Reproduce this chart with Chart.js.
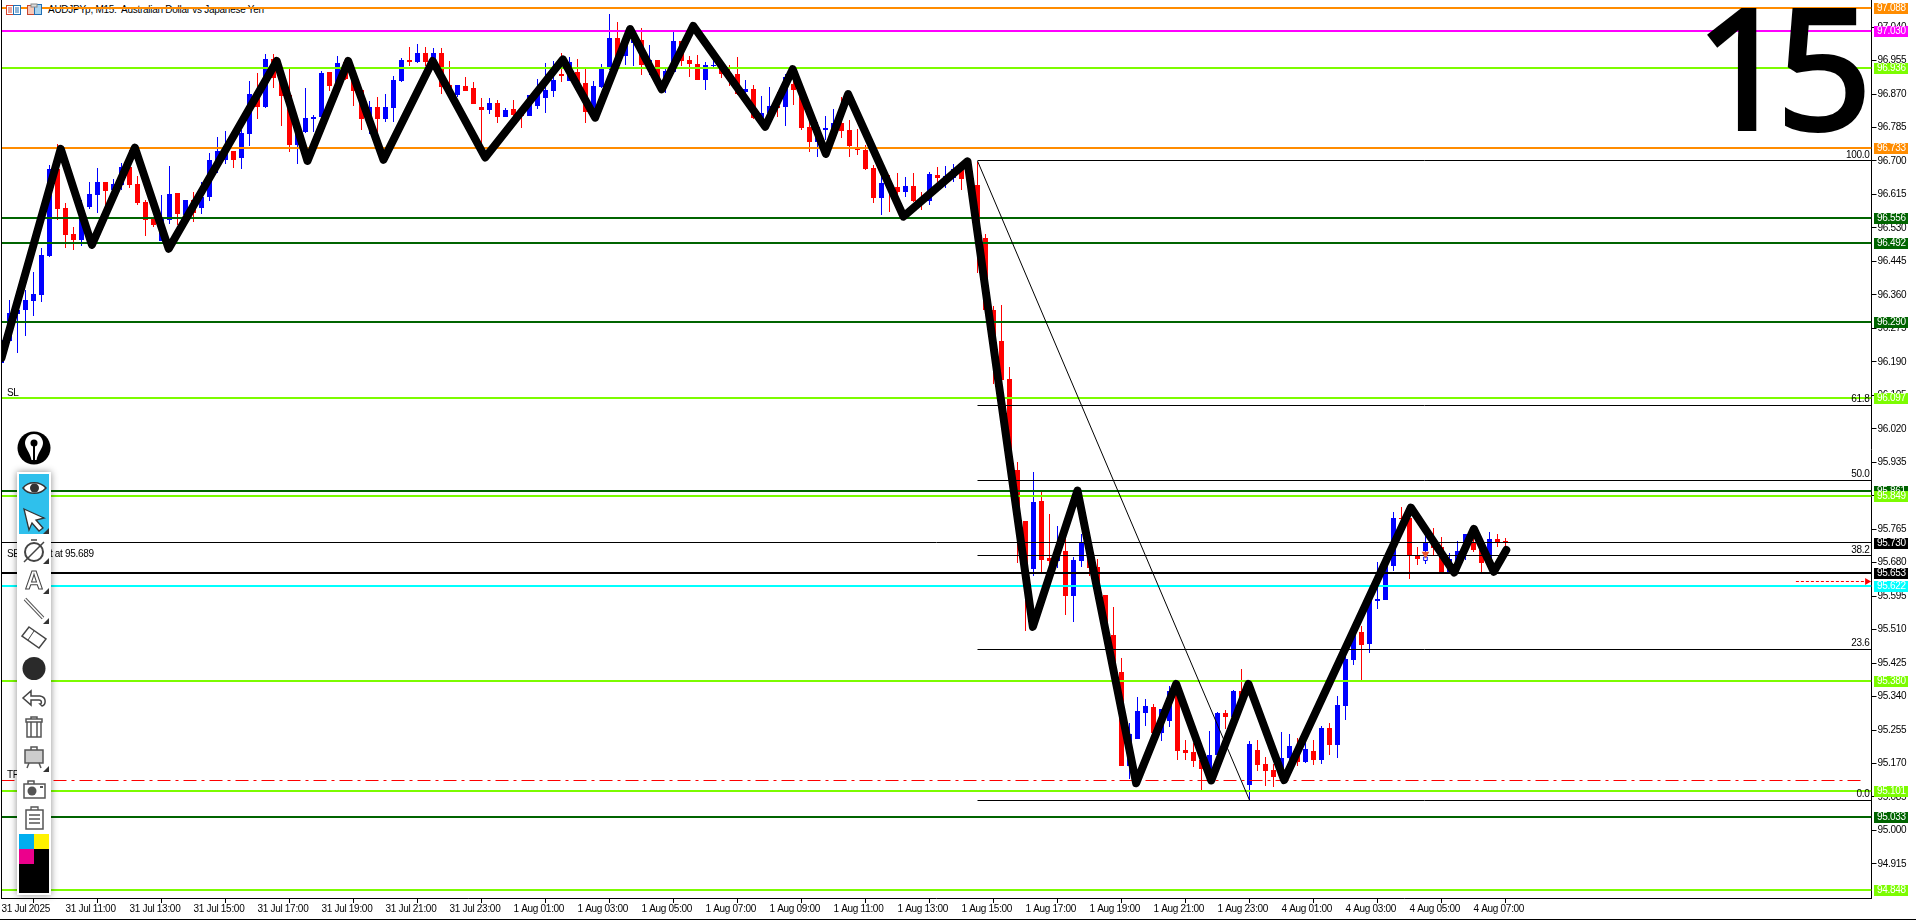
<!DOCTYPE html>
<html>
<head>
<meta charset="utf-8">
<title>AUDJPYp M15</title>
<script src="https://cdn.jsdelivr.net/npm/chart.js@4/dist/chart.umd.min.js"></script>
<style>
    html, body { margin: 0; padding: 0; background: #fff; overflow: hidden; }
    #wrap { position: relative; width: 1916px; height: 920px; overflow: hidden; }
    #title { position: absolute; left: 48px; top: 4px; font: 10px "Liberation Sans", sans-serif; letter-spacing: -0.27px; color: #000; white-space: pre; }
    #chart { position: absolute; left: 0; top: 0; }
    #bigNumber { position: absolute; left: 1695px; top: -36px; font: 400 167px "Noto Sans", sans-serif; line-height: 1.2; letter-spacing: -14px; color: #000; -webkit-text-stroke: 4px #000; }
    #panel { position: absolute; left: 17px; top: 472px; width: 34px; height: 423px; background: #fff; box-shadow: 0 0 7px rgba(0,0,0,.45); }
    svg.icons { position: absolute; left: 0; top: 0; }
</style>
</head>
<body>
<div id="wrap">
    <div id="title">AUDJPYp, M15:  Australian Dollar vs Japanese Yen</div>
    <canvas id="chart" width="1916" height="920"></canvas>
    <div id="bigNumber">15</div>
    <div id="panel"></div>
    <svg class="icons" width="1916" height="920" viewBox="0 0 1916 920" fill="none">
        <!-- header icons -->
        <rect x="6.5" y="5.5" width="14" height="9" fill="#fff" stroke="#d9432f"/>
        <rect x="13.5" y="5.5" width="7" height="9" fill="#fff" stroke="#1f6fb5"/>
        <path d="M8 8h4M8 10h4M8 12h4" stroke="#d9432f"/><path d="M15 8h4M15 10h4M15 12h4" stroke="#1f6fb5"/>
        <rect x="27.5" y="5.5" width="7" height="9" fill="#f8c9b8" stroke="#c8452f"/>
        <rect x="34.5" y="4.5" width="7" height="10" fill="#a9d3ee" stroke="#1f6fb5"/>
        <rect x="31" y="4" width="6" height="3" fill="#ddd" stroke="#888"/>
        <!-- logo -->
        <circle cx="34" cy="448" r="16.5" fill="#000"/>
        <path d="M34 434c6 0 9 5 9 9 0 5-5 9-6.500 17h-5c-1.500-8-6.500-12-6.500-17 0-4 3-9 9-9z" fill="#fff"/>
        <circle cx="34" cy="443" r="3.500" fill="#000"/><path d="M34 444v16" stroke="#000" stroke-width="2"/>
        <!-- highlighted tools -->
        <rect x="19" y="474" width="30" height="60" fill="#2fc0ec"/>
        <path d="M23 488c5-7 17-7 23 0-6 7-18 7-23 0z" fill="#fff" stroke="#333" stroke-width="1.500"/>
        <circle cx="34.500" cy="488" r="4.500" fill="#333"/>
        <path d="M24 509l20 9-8 2 7 8-4 3-7-8-3 7z" fill="#fff" stroke="#333" stroke-width="1.300"/>
        <path d="M49 528v6h-6z" fill="#333"/>
        <!-- timer -->
        <circle cx="34" cy="552" r="9" stroke="#444" stroke-width="2"/><path d="M31 540h6M24 562l20-20" stroke="#444" stroke-width="1.500"/>
        <path d="M49 558v6h-6z" fill="#333"/>
        <!-- text tool -->
        <text x="34" y="589" text-anchor="middle" font-family="Liberation Sans" font-size="25" font-weight="bold" fill="#fff" stroke="#444">A</text>
        <path d="M49 588v6h-6z" fill="#333"/>
        <!-- line tool -->
        <path d="M25 599l18 19" stroke="#555" stroke-width="3.500"/><path d="M25 599l18 19" stroke="#fff" stroke-width="1.500"/>
        <path d="M49 618v6h-6z" fill="#333"/>
        <!-- eraser -->
        <path d="M29 627l17 12-7 9-17-12z" fill="#fff" stroke="#444" stroke-width="1.500"/><path d="M34 631l-6 9" stroke="#444"/>
        <!-- colour dot -->
        <circle cx="34" cy="668.500" r="11.500" fill="#2a2a2a"/>
        <!-- undo -->
        <path d="M42 706c4-1 5-9-2-10H31v-5l-8 7 8 7v-5h8c3 0 3 4 1 4z" fill="#fff" stroke="#444" stroke-width="1.500"/>
        <!-- trash -->
        <path d="M27 722h14v15H27zM26 719h16v3H26zM31 722v15M37 722v15M31 719v-2h6v2" fill="#fff" stroke="#555" stroke-width="1.500"/>
        <!-- easel -->
        <rect x="25" y="750" width="18" height="13" fill="#ccc" stroke="#555" stroke-width="1.500"/>
        <path d="M31 750v-3h6v3M29 763l-2 5M39 763l2 5" stroke="#555" stroke-width="1.500"/>
        <path d="M49 766v6h-6z" fill="#333"/>
        <!-- camera -->
        <rect x="24" y="784" width="21" height="14" fill="#fff" stroke="#555" stroke-width="1.500"/>
        <path d="M28 784v-3h6v3" stroke="#555" stroke-width="1.500"/><circle cx="32" cy="791" r="4.500" fill="#555"/><rect x="40" y="786" width="3" height="2" fill="#555"/>
        <!-- clipboard -->
        <rect x="26" y="810" width="17" height="19" fill="#fff" stroke="#555" stroke-width="1.500"/>
        <path d="M31 810v-3h7v3M29 815h11M29 819h11M29 823h11" stroke="#555" stroke-width="1.300"/>
        <!-- colour block -->
        <rect x="19" y="834" width="15" height="15" fill="#00aeef"/>
        <rect x="34" y="834" width="15" height="15" fill="#fff200"/>
        <rect x="19" y="849" width="15" height="15" fill="#ec008c"/>
        <rect x="34" y="849" width="15" height="15" fill="#000"/>
        <rect x="19" y="864" width="30" height="29" fill="#000"/>
    </svg>
</div>
<script>
// candles, one entry per M15 bar
const opens = [
    96.187,96.243,96.312,96.322,96.345,96.360,96.459,96.680,96.581,96.515,
    96.500,96.584,96.614,96.647,96.627,96.639,96.685,96.642,96.596,96.553,
    96.497,96.551,96.619,96.563,96.601,96.581,96.609,96.703,96.703,96.726,
    96.708,96.769,96.868,96.837,96.959,96.911,96.868,96.741,96.774,96.807,
    96.812,96.926,96.891,96.952,96.909,96.881,96.807,96.837,96.807,96.835,
    96.903,96.957,96.952,96.975,96.952,96.975,96.893,96.868,96.891,96.886,
    96.837,96.830,96.848,96.812,96.832,96.817,96.815,96.840,96.860,96.878,
    96.921,96.903,96.926,96.898,96.825,96.888,96.934,97.013,96.967,97.000,
    97.008,96.942,96.957,96.903,96.926,97.005,96.957,96.947,96.906,96.942,
    96.944,96.924,96.921,96.875,96.883,96.806,96.821,96.840,96.837,96.896,
    96.881,96.787,96.749,96.779,96.782,96.797,96.779,96.733,96.728,96.683,
    96.606,96.645,96.634,96.622,96.637,96.601,96.599,96.665,96.657,96.657,
    96.682,96.654,96.639,96.505,96.322,96.243,96.147,95.916,95.787,95.665,
    95.837,95.693,95.685,95.710,95.596,95.685,95.733,95.670,95.599,95.496,
    95.403,95.164,95.232,95.299,95.314,95.248,95.278,95.354,95.205,95.200,
    95.179,95.156,95.192,95.299,95.288,95.354,95.116,95.205,95.169,95.154,
    95.136,95.184,95.207,95.174,95.202,95.179,95.260,95.217,95.316,95.433,
    95.504,95.474,95.583,95.585,95.672,95.793,95.793,95.697,95.710,95.738,
    95.720,95.656,95.674,95.710,95.729,95.712,95.683,95.740,95.734
];
const highs = [
    96.246,96.347,96.330,96.373,96.418,96.479,96.690,96.744,96.594,96.533,
    96.601,96.647,96.683,96.647,96.655,96.695,96.728,96.662,96.601,96.553,
    96.614,96.688,96.619,96.601,96.622,96.647,96.721,96.761,96.777,96.726,
    96.779,96.903,96.924,96.972,96.972,96.944,96.936,96.788,96.886,96.817,
    96.929,96.926,96.967,96.962,96.931,96.881,96.853,96.863,96.870,96.916,
    96.962,96.990,96.997,96.990,96.987,96.987,96.954,96.893,96.914,96.901,
    96.860,96.860,96.855,96.835,96.855,96.817,96.868,96.909,96.949,96.954,
    96.975,96.964,96.959,96.936,96.903,96.947,97.074,97.053,97.020,97.016,
    97.038,96.995,96.957,96.936,97.030,97.005,96.967,96.969,96.952,96.982,
    96.944,96.944,96.964,96.906,96.893,96.865,96.888,96.875,96.921,96.919,
    96.881,96.799,96.799,96.815,96.832,96.863,96.804,96.782,96.741,96.690,
    96.661,96.665,96.670,96.660,96.670,96.622,96.672,96.685,96.688,96.693,
    96.693,96.660,96.698,96.515,96.331,96.335,96.177,95.936,95.787,95.911,
    95.865,95.804,95.774,95.743,95.695,95.754,95.754,95.689,95.599,95.568,
    95.438,95.273,95.339,95.334,95.321,95.308,95.367,95.354,95.230,95.221,
    95.179,95.253,95.301,95.306,95.357,95.410,95.227,95.230,95.187,95.169,
    95.250,95.245,95.235,95.225,95.230,95.265,95.273,95.342,95.458,95.509,
    95.519,95.602,95.682,95.678,95.809,95.821,95.805,95.720,95.754,95.768,
    95.745,95.705,95.735,95.754,95.763,95.717,95.758,95.753,95.743
];
const lows = [
    96.187,96.243,96.213,96.256,96.307,96.342,96.455,96.551,96.480,96.475,
    96.485,96.579,96.568,96.586,96.624,96.627,96.632,96.589,96.510,96.533,
    96.497,96.541,96.538,96.563,96.546,96.566,96.599,96.670,96.693,96.683,
    96.680,96.738,96.807,96.835,96.886,96.789,96.723,96.693,96.771,96.774,
    96.810,96.878,96.889,96.906,96.840,96.779,96.769,96.769,96.799,96.799,
    96.901,96.942,96.949,96.942,96.940,96.870,96.868,96.863,96.878,96.845,
    96.741,96.820,96.797,96.812,96.807,96.784,96.815,96.832,96.822,96.863,
    96.901,96.903,96.881,96.797,96.817,96.886,96.931,96.957,96.944,96.942,
    96.919,96.919,96.891,96.873,96.926,96.942,96.914,96.906,96.881,96.936,
    96.911,96.891,96.868,96.868,96.807,96.792,96.820,96.812,96.789,96.843,
    96.779,96.723,96.711,96.754,96.779,96.759,96.711,96.716,96.678,96.594,
    96.563,96.571,96.601,96.609,96.596,96.576,96.589,96.647,96.632,96.647,
    96.627,96.630,96.416,96.322,96.134,96.143,95.916,95.679,95.507,95.647,
    95.657,95.662,95.667,95.548,95.530,95.670,95.647,95.598,95.496,95.403,
    95.164,95.131,95.232,95.266,95.247,95.227,95.263,95.179,95.179,95.161,
    95.103,95.128,95.192,95.258,95.281,95.315,95.075,95.151,95.113,95.111,
    95.136,95.179,95.164,95.172,95.166,95.169,95.192,95.184,95.281,95.420,
    95.382,95.451,95.562,95.585,95.659,95.788,95.639,95.674,95.677,95.699,
    95.656,95.656,95.674,95.687,95.707,95.656,95.678,95.720,95.722
];
const closes = [
    96.246,96.314,96.322,96.347,96.363,96.462,96.680,96.579,96.513,96.500,
    96.563,96.617,96.647,96.624,96.642,96.685,96.639,96.594,96.551,96.538,
    96.553,96.617,96.566,96.601,96.568,96.609,96.703,96.726,96.728,96.703,
    96.771,96.870,96.837,96.959,96.911,96.865,96.741,96.771,96.810,96.812,
    96.924,96.891,96.949,96.909,96.878,96.807,96.837,96.807,96.837,96.906,
    96.957,96.952,96.975,96.952,96.975,96.888,96.870,96.893,96.878,96.845,
    96.830,96.848,96.812,96.830,96.817,96.813,96.868,96.870,96.881,96.906,
    96.916,96.952,96.881,96.825,96.891,96.934,97.013,96.965,97.010,97.008,
    96.944,96.957,96.906,96.929,97.005,96.954,96.947,96.906,96.944,96.944,
    96.921,96.906,96.870,96.883,96.810,96.822,96.840,96.834,96.914,96.881,
    96.784,96.749,96.787,96.784,96.797,96.777,96.738,96.728,96.680,96.606,
    96.645,96.632,96.622,96.637,96.599,96.599,96.667,96.657,96.662,96.680,
    96.654,96.636,96.508,96.322,96.243,96.143,95.916,95.787,95.665,95.835,
    95.688,95.685,95.704,95.596,95.688,95.733,95.667,95.598,95.496,95.403,
    95.164,95.245,95.304,95.316,95.247,95.308,95.354,95.202,95.197,95.177,
    95.156,95.192,95.299,95.288,95.354,95.323,95.220,95.167,95.151,95.136,
    95.184,95.215,95.174,95.207,95.179,95.260,95.217,95.319,95.436,95.496,
    95.471,95.585,95.588,95.674,95.793,95.791,95.697,95.689,95.729,95.718,
    95.656,95.689,95.710,95.754,95.712,95.679,95.740,95.729,95.731
];

// hand drawn black zigzag: bar position and price of every corner
const zigzagBars = [0, 7.4, 11.3, 16.67, 20.9, 34.4, 38.25, 43.33, 47.75, 53.9, 60.46, 70.17, 74.2, 78.58, 82.54, 86.46, 95.46, 98.9, 103.04, 105.83, 112.75, 120.75, 128.92, 134.5, 141.83, 146.83, 151.21, 155.87, 160.33, 176.17, 181.58, 184.04, 186.54, 188.1];
const zigzagPrices = [96.200, 96.731, 96.487, 96.734, 96.477, 96.954, 96.700, 96.954, 96.703, 96.954, 96.709, 96.958, 96.810, 97.035, 96.882, 97.043, 96.787, 96.933, 96.718, 96.870, 96.559, 96.699, 95.517, 95.863, 95.120, 95.372, 95.127, 95.372, 95.128, 95.820, 95.655, 95.766, 95.657, 95.712];

// horizontal levels by colour
const orangeLevels = [97.088, 96.733];
const magentaLevels = [97.030];
const limeLevels = [96.936, 96.097, 95.849, 95.380, 95.101, 94.848];
const greenLevels = [96.556, 96.492, 96.290, 95.861, 95.033];
const thinBlackLevels = [95.730];
const blackLevels = [95.653];
const cyanLevels = [95.622];
const takeProfit = 95.128;
const entryPrice = 95.689;
const pendingArrowBars = [224.3, 233.2];
const pendingArrowPrice = 95.632;

// fibonacci retracement
const fibLabels = ['100.0', '61.8', '50.0', '38.2', '23.6', '0.0'];
const fibPrices = [96.700, 96.080, 95.889, 95.697, 95.460, 95.077];
const fibStartBar = 122;
const fibEndBar = 156;

// sell marker
const markerBar = 178;
const markerPrice = 95.702;
const markerOpenPrice = 95.690;

// axes
const priceTicks = [97.040, 96.955, 96.870, 96.785, 96.700, 96.615, 96.530, 96.445, 96.360, 96.275, 96.190, 96.105, 96.020, 95.935, 95.850, 95.765, 95.680, 95.595, 95.510, 95.425, 95.340, 95.255, 95.170, 95.085, 95.000, 94.915];
const timeTickBars = [0, 8, 16, 24, 32, 40, 48, 56, 64, 72, 80, 88, 96, 104, 112, 120, 128, 136, 144, 152, 160, 168, 176, 184];
const timeLabels = ['31 Jul 2025', '31 Jul 11:00', '31 Jul 13:00', '31 Jul 15:00', '31 Jul 17:00', '31 Jul 19:00', '31 Jul 21:00', '31 Jul 23:00', '1 Aug 01:00', '1 Aug 03:00', '1 Aug 05:00', '1 Aug 07:00', '1 Aug 09:00', '1 Aug 11:00', '1 Aug 13:00', '1 Aug 15:00', '1 Aug 17:00', '1 Aug 19:00', '1 Aug 21:00', '1 Aug 23:00', '4 Aug 01:00', '4 Aug 03:00', '4 Aug 05:00', '4 Aug 07:00'];

const BLUE = '#0000ff', RED = '#ff0000', ORANGE = '#ff8c00', MAGENTA = '#ff00ff', LIME = '#7cfc00', GREEN = '#006400', CYAN = '#00ffff', BLACK = '#000000';
const LABEL_FONT = '10px "Liberation Sans", sans-serif';
const LAST_BAR = 233.75;

const candleBars = opens.map((o, i) => i);
const candleColors = opens.map((o, i) => closes[i] >= o ? BLUE : RED);

function levelDataset(price, color, width, start, dash) {
    return {
        type: 'line',
        data: [{ x: start === undefined ? 0 : start, y: price }, { x: LAST_BAR, y: price }],
        borderColor: color,
        borderWidth: width,
        borderDash: dash || [],
        pointRadius: 0,
        snap: true,
        order: 20
    };
}

const datasets = [
    {
        type: 'bar',
        data: candleBars.map(i => ({ x: i, y: [lows[i], highs[i]] })),
        backgroundColor: candleColors,
        barThickness: 1,
        grouped: false,
        inflateAmount: 0,
        order: 30
    },
    {
        type: 'bar',
        data: candleBars.map(i => ({ x: i, y: [opens[i], closes[i]] })),
        backgroundColor: candleColors,
        barThickness: 5,
        grouped: false,
        inflateAmount: 0,
        order: 29
    }
];

fibPrices.forEach(p => datasets.push(levelDataset(p, BLACK, 1, fibStartBar)));
thinBlackLevels.forEach(p => datasets.push(levelDataset(p, BLACK, 1)));
orangeLevels.forEach(p => datasets.push(levelDataset(p, ORANGE, 2)));
magentaLevels.forEach(p => datasets.push(levelDataset(p, MAGENTA, 2)));
greenLevels.forEach(p => datasets.push(levelDataset(p, GREEN, 2)));
limeLevels.forEach(p => datasets.push(levelDataset(p, LIME, 2)));
blackLevels.forEach(p => datasets.push(levelDataset(p, BLACK, 2)));
cyanLevels.forEach(p => datasets.push(levelDataset(p, CYAN, 2)));

// take profit stops short of the price axis
const tpLine = levelDataset(takeProfit, RED, 1, 0, [13, 5, 3, 5]);
tpLine.data[1].x = 232.9;
datasets.push(tpLine);

// fibonacci trend line
datasets.push({
    type: 'line',
    data: [{ x: fibStartBar, y: fibPrices[0] }, { x: fibEndBar, y: fibPrices[5] }],
    borderColor: BLACK,
    borderWidth: 1,
    pointRadius: 0,
    order: 19
});

// pending order arrow
const pendingLine = levelDataset(pendingArrowPrice, RED, 1, pendingArrowBars[0], [3, 2]);
pendingLine.data[1].x = pendingArrowBars[1];
datasets.push(pendingLine);
datasets.push({
    type: 'line',
    data: [{ x: pendingArrowBars[1], y: pendingArrowPrice }],
    showLine: false,
    pointStyle: 'triangle',
    rotation: 90,
    pointRadius: 4,
    pointBackgroundColor: RED,
    pointBorderWidth: 0,
    order: 18
});

// sell marker on the bar
datasets.push({
    type: 'line',
    data: [{ x: markerBar, y: markerOpenPrice }],
    showLine: false,
    pointStyle: 'rect',
    pointRadius: 2.5,
    pointBackgroundColor: '#ffffff',
    pointBorderColor: BLUE,
    pointBorderWidth: 1,
    order: 11
});
datasets.push({
    type: 'line',
    data: [{ x: markerBar, y: markerPrice }],
    showLine: false,
    pointStyle: 'triangle',
    rotation: 180,
    pointRadius: 4.5,
    pointBackgroundColor: '#e9552d',
    pointBorderWidth: 0,
    order: 10
});

// zigzag on top of everything
datasets.push({
    type: 'line',
    data: zigzagBars.map((b, i) => ({ x: b, y: zigzagPrices[i] })),
    borderColor: BLACK,
    borderWidth: 8,
    borderCapStyle: 'round',
    borderJoinStyle: 'round',
    pointRadius: 0,
    tension: 0,
    order: 1
});

// price tags on the right, later ones cover earlier ones
const priceTags = [
    [97.088, ORANGE], [97.030, MAGENTA], [96.936, LIME], [96.733, ORANGE],
    [96.556, GREEN], [96.492, GREEN], [96.290, GREEN], [96.097, LIME],
    [95.861, GREEN], [95.849, LIME], [95.730, BLACK], [95.653, BLACK],
    [95.622, CYAN], [95.380, LIME], [95.101, LIME], [95.033, GREEN], [94.848, LIME]
];

// no extra room around the plot, the labels may reach the edges
function fitAxis(scale, width, height) {
    if (width) scale.width = width;
    if (height) scale.height = height;
    scale.paddingLeft = scale.paddingRight = scale.paddingTop = scale.paddingBottom = 0;
    scale._margins = { left: 0, right: 0, top: 0, bottom: 0 };
}

const terminalPlugin = {
    id: 'terminal',
    // snap candles to whole pixels like the terminal does
    afterDatasetsUpdate(chart) {
        chart.data.datasets.forEach((ds, index) => {
            if (ds.type !== 'bar') return;
            chart.getDatasetMeta(index).data.forEach(el => {
                const top = Math.round(Math.min(el.y, el.base));
                let bottom = Math.round(Math.max(el.y, el.base));
                if (bottom === top) bottom = top + 1;
                el.y = top;
                el.base = bottom;
            });
        });
    },
    beforeDraw(chart) {
        chart.ctx.letterSpacing = '-0.3px';
    },
    beforeDatasetDraw(chart, args) {
        const ds = chart.data.datasets[args.index];
        if (!ds.snap) return;
        const y = args.meta.data[0].y;
        const target = ds.borderWidth % 2 ? Math.floor(y) + 0.5 : Math.round(y);
        chart.ctx.save();
        chart.ctx.translate(0, target - y);
    },
    afterDatasetDraw(chart, args) {
        if (chart.data.datasets[args.index].snap) chart.ctx.restore();
    },
    afterDraw(chart) {
        const ctx = chart.ctx;
        const yScale = chart.scales.y;
        const right = chart.chartArea.right;

        ctx.save();
        ctx.fillStyle = BLACK;
        ctx.fillRect(1, 0, 1, 898);
        ctx.fillRect(0, 919, 1916, 1);

        ctx.font = LABEL_FONT;
        ctx.textBaseline = 'alphabetic';

        // fibonacci level names
        ctx.textAlign = 'right';
        fibPrices.forEach((p, i) => {
            ctx.fillText(fibLabels[i], right - 2, Math.round(yScale.getPixelForValue(p)) - 3);
        });

        // order labels at the left edge
        ctx.textAlign = 'left';
        ctx.fillText('SL', 7, Math.round(yScale.getPixelForValue(limeLevels[1])) - 2);
        ctx.fillText('SELL Limit at ' + entryPrice.toFixed(3), 7, Math.round(yScale.getPixelForValue(entryPrice)) - 2);
        ctx.fillText('TP', 7, Math.round(yScale.getPixelForValue(takeProfit)) - 2);

        // price tags
        ctx.textBaseline = 'middle';
        priceTags.forEach(tag => {
            const y = Math.round(yScale.getPixelForValue(tag[0]));
            ctx.fillStyle = tag[1];
            ctx.fillRect(1874, y - 5, 34, 11);
            ctx.fillStyle = '#ffffff';
            ctx.fillText(tag[0].toFixed(3), 1877, y + 0.5);
        });
        ctx.restore();
    }
};

new Chart(document.getElementById('chart'), {
    type: 'bar',
    data: { datasets: datasets },
    plugins: [terminalPlugin],
    options: {
        responsive: false,
        animation: false,
        events: [],
        layout: { autoPadding: false, padding: { left: 1.5, right: 0, top: 0, bottom: 0 } },
        plugins: { legend: { display: false }, tooltip: { enabled: false }, title: { display: false } },
        scales: {
            x: {
                type: 'linear',
                min: 0,
                max: LAST_BAR,
                bounds: 'data',
                offset: false,
                afterFit: s => fitAxis(s, 0, 22),
                afterBuildTicks: s => { s.ticks = timeTickBars.map(v => ({ value: v })); },
                grid: { drawOnChartArea: false, tickLength: 5, tickColor: BLACK },
                border: { color: BLACK },
                ticks: {
                    autoSkip: false,
                    maxRotation: 0,
                    minRotation: 0,
                    align: 'start',
                    padding: 0,
                    color: BLACK,
                    font: { family: '"Liberation Sans", sans-serif', size: 10 },
                    callback: (v, i) => timeLabels[i]
                }
            },
            y: {
                position: 'right',
                min: 94.8285,
                max: 97.1088,
                bounds: 'data',
                afterFit: s => fitAxis(s, 44.5, 0),
                afterBuildTicks: s => { s.ticks = priceTicks.map(v => ({ value: v })); },
                grid: { drawOnChartArea: false, tickLength: 5, tickColor: BLACK },
                border: { color: BLACK },
                ticks: {
                    autoSkip: false,
                    padding: 1,
                    color: BLACK,
                    font: { family: '"Liberation Sans", sans-serif', size: 10 },
                    callback: v => v.toFixed(3)
                }
            }
        }
    }
});
</script>
</body>
</html>
